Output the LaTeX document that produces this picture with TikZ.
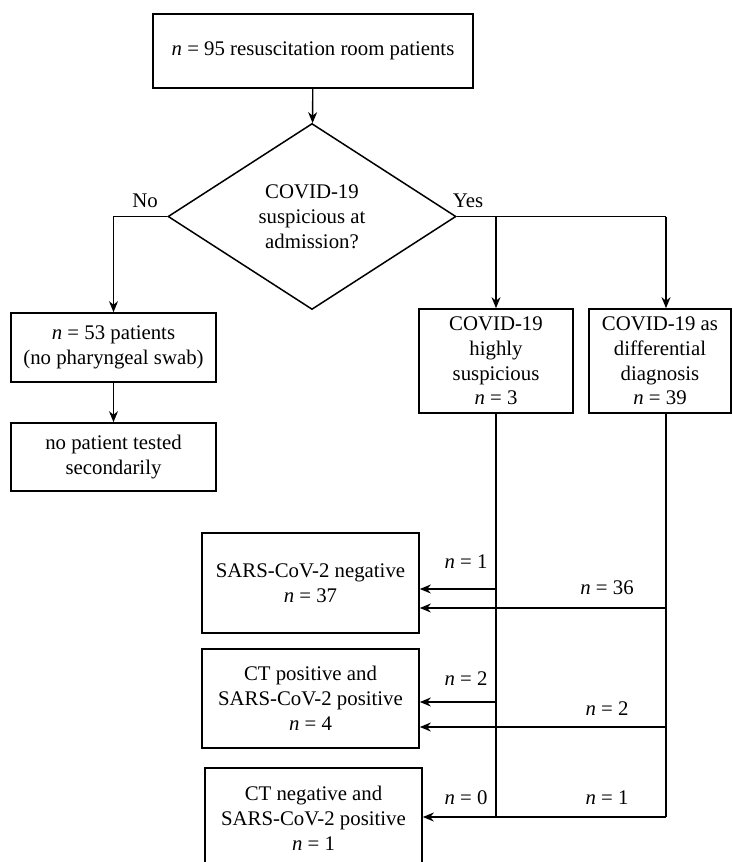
\documentclass[tikz,border=0pt]{standalone}
\usepackage{fontspec}
\setmainfont{Liberation Serif}
\usetikzlibrary{shapes.geometric,arrows.meta}
\newcommand{\nval}[1]{\textit{n} = #1}
\begin{document}
\begin{tikzpicture}[x=1pt,y=-1pt,
  every node/.style={font=\fontsize{20.8}{24.8}\selectfont, align=center},
  box/.style={draw, line width=1.7pt, inner sep=0pt},
  decision/.style={draw, diamond, aspect=1.55, line width=1.5pt, inner sep=0pt},
  line/.style={line width=1.4pt},
  arr/.style={line width=1.4pt, -{Stealth[length=11pt,width=9pt]}}]
\useasboundingbox (0,0) rectangle (732,862);
% boxes
\node [box, minimum width=320, minimum height=74] (start) at (313,51) {\nval{95} resuscitation room patients};
\node [decision, minimum width=288, minimum height=186] (q) at (312,216.5) {COVID-19\\suspicious at\\admission?};
\node [box, minimum width=205, minimum height=69] (nopat) at (113.5,347.5) {\nval{53} patients\\(no pharyngeal swab)};
\node [box, minimum width=205, minimum height=68] (notest) at (113.5,457) {no patient tested\\secondarily};
\node [box, minimum width=154, minimum height=104] (high) at (496,361) {COVID-19\\highly\\suspicious\\\nval{3}};
\node [box, minimum width=142, minimum height=104] (diff) at (660,361) {COVID-19 as\\differential\\diagnosis\\\nval{39}};
\node [box, minimum width=217, minimum height=100] (neg) at (310.5,583) {SARS-CoV-2 negative\\\nval{37}};
\node [box, minimum width=217, minimum height=99] (pos) at (310.5,698.5) {CT positive and\\SARS-CoV-2 positive\\\nval{4}};
\node [box, minimum width=217, minimum height=100] (ctneg) at (313.5,818) {CT negative and\\SARS-CoV-2 positive\\\nval{1}};
% labels
\node (no) at (145,201) {No};
\node (yes) at (468,201) {Yes};
\node (l1) at (466,562) {\nval{1}};
\node (l2) at (607,588) {\nval{36}};
\node (l3) at (466,679) {\nval{2}};
\node (l4) at (607,709) {\nval{2}};
\node (l5) at (466,798) {\nval{0}};
\node (l6) at (607,798) {\nval{1}};
% junctions
\coordinate (hx) at (496,216.5);
\coordinate (dx) at (666,216.5);
\coordinate (h1) at (496,589);
\coordinate (h2) at (496,702);
\coordinate (hb) at (496,817);
\coordinate (d1) at (666,608);
\coordinate (d2) at (666,727);
\coordinate (db) at (666,817);
% connectors
\draw [arr] (start) -- (q);
\draw [arr] (q.west) -| (nopat.north);
\draw [arr] (nopat) -- (notest);
\draw [line] (q.east) -- (dx);
\draw [arr] (hx) -- (high.north);
\draw [arr] (dx) -- (dx |- diff.north);
\draw [line] (high.south) -- (hb);
\draw [line] (dx |- diff.south) -- (db);
\draw [arr] (h1) -- (h1 -| neg.east);
\draw [arr] (d1) -- (d1 -| neg.east);
\draw [arr] (h2) -- (h2 -| pos.east);
\draw [arr] (d2) -- (d2 -| pos.east);
\draw [arr] (db) -- (db -| ctneg.east);
\end{tikzpicture}
\end{document}
